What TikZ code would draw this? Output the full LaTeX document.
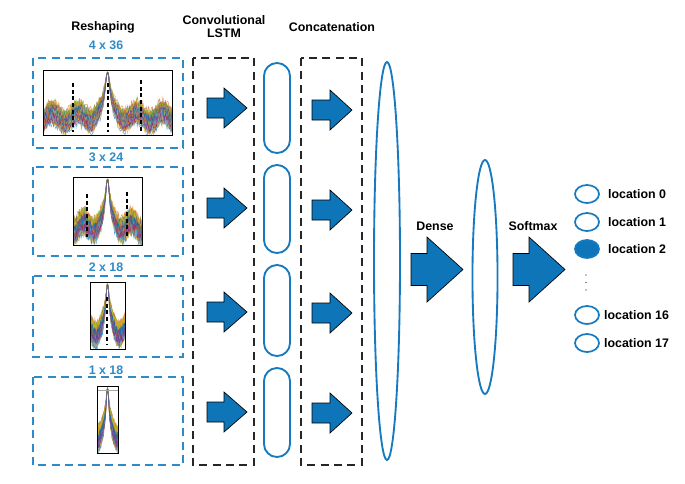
\documentclass[tikz,border=0pt]{standalone}
\usepackage{fontspec}
\setmainfont{Liberation Sans}
\usetikzlibrary{positioning, shapes.geometric}
\definecolor{fblue}{RGB}{14,117,185}
\definecolor{lblue}{RGB}{45,140,200}
\definecolor{eblue}{RGB}{22,122,192}
\definecolor{bandc}{RGB}{150,130,105}
\definecolor{m1}{RGB}{0,114,189}
\definecolor{m2}{RGB}{217,83,25}
\definecolor{m3}{RGB}{237,177,32}
\definecolor{m4}{RGB}{126,47,142}
\definecolor{m5}{RGB}{119,172,48}
\definecolor{m6}{RGB}{77,190,238}
\definecolor{m7}{RGB}{162,20,47}
\tikzset{%
    ttl/.style={font=\fontsize{9.3}{9.75}\selectfont\bfseries, align=center, inner sep=0pt},
    dim/.style={ttl, text=lblue},
    rbox/.style={draw=lblue, line width=1.2pt, dash pattern=on 6pt off 4pt},
    lbox/.style={draw=black!85, line width=1.1pt, dash pattern=on 6pt off 4pt},
    caps/.style={draw=eblue, line width=1.4pt, rounded corners=9.7pt},
    lay/.style={draw=eblue, line width=1.4pt},
    flw/.style={fill=fblue, draw=black, line width=0.5pt, line join=miter},
    trc/.style={line width=0.3pt, opacity=0.7},
    sep/.style={line width=1.6pt, dash pattern=on 3pt off 2pt},
    frm/.style={draw=black, line width=0.7pt},
    unit/.style={ellipse, draw=eblue, line width=1.3pt, minimum width=18pt, minimum height=13.5pt, inner sep=0pt},
    declare function={pk(\u)=0.97*0.0006/((\u-0.5)^2+0.0006); bs(\u)=0.31+0.08*sin(1800*abs(\u-0.5)+40);},
}
% block arrow: tail x, centre y, head x, tip x, shaft half, head half
\newcommand\flowarrow[6]{%
    \draw[flw] (#1,#2-#5) -- (#3,#2-#5) -- (#3,#2-#6) -- (#4,#2)
        -- (#3,#2+#6) -- (#3,#2+#5) -- (#1,#2+#5) -- cycle;
}
% spectrum plot: left, top, right, bottom, u0, u1
\newcommand\specplot[6]{%
    \pgfmathsetmacro\pw{(#3-#1)*0.75}
    \pgfmathsetmacro\ph{(#4-#2)*0.75}
    \begin{scope}
        \clip (#1,#2) rectangle (#3,#4);
        \begin{scope}[shift={(#1,#4)}, x=\pw pt, y=\ph pt]
            \fill[bandc, opacity=0.8] plot[domain=#5:#6, samples=161]
                    ({(\x-#5)/(#6-#5)}, {pk(\x)+(1-pk(\x))*(bs(\x)-0.2+0.03*rand)})
                -- plot[domain=#6:#5, samples=161]
                    ({(\x-#5)/(#6-#5)}, {pk(\x)+(1-pk(\x))*(bs(\x)+0.12+0.03*rand)}) -- cycle;
            \foreach \c/\o in {m1/-0.2, m2/-0.16, m3/-0.12, m4/-0.08, m5/-0.04, m6/0, m7/0.04,
                               m1/0.08, m2/0.12, m3/-0.18, m5/0.1, m6/-0.1, m4/0.02, m7/-0.14,
                               m2/-0.06, m5/0.06, m6/-0.15, m3/0.09, m1/-0.02, m4/-0.12}{
                \draw[trc, \c] plot[domain=#5:#6, samples=161]
                    ({(\x-#5)/(#6-#5)}, {pk(\x)+(1-pk(\x))*(bs(\x)+\o+0.08*rand)});
            }
        \end{scope}
    \end{scope}
}
\begin{document}
\begin{tikzpicture}[x=0.75pt, y=-0.75pt]
    \pgfmathsetseed{11}
    \useasboundingbox (0,0) rectangle (685,483);

    % column titles
    \node[ttl] (tres) at (103,27) {Reshaping};
    \node[ttl] (tlstm) at (224,26.5) {Convolutional\\LSTM};
    \node[ttl] (tcat) at (332,27) {Concatenation};

    % reshaping boxes
    \draw[rbox] (33,58) rectangle (183,148);
    \draw[rbox] (33,167) rectangle (183,256);
    \draw[rbox] (33,276) rectangle (183,357);
    \draw[rbox] (33,377) rectangle (183,465);
    \node[dim] (d1) at (106,45) {4 x 36};
    \node[dim] (d2) at (106,157) {3 x 24};
    \node[dim] (d3) at (106,267) {2 x 18};
    \node[dim] (d4) at (106,370) {1 x 18};

    % spectra
    \specplot{43}{70}{172}{135}{0}{1}
    \draw[sep] (73,83) -- (73,132);
    \draw[sep] (108,83) -- (108,132);
    \draw[sep] (141,80) -- (141,132);
    \draw[frm] (43,70) rectangle (172,135);

    \specplot{73}{177}{142}{245}{0.17}{0.83}
    \draw[sep] (87,194) -- (87,237);
    \draw[sep] (127,192) -- (127,237);
    \draw[frm] (73,177) rectangle (142,245);

    \specplot{90}{282}{125}{349}{0.3}{0.7}
    \draw[sep] (107,297) -- (107,345);
    \draw[frm] (90,282) rectangle (125,349);

    \specplot{97}{386}{118}{453}{0.36}{0.64}
    \draw[black!35, line width=0.5pt] (97,390) -- (118,390);
    \draw[frm] (97,386) rectangle (118,453);

    % ConvLSTM and concatenation columns
    \draw[lbox] (193,58) rectangle (254,465);
    \draw[lbox] (301,58) rectangle (362,465);
    \foreach \y in {108,208,312,412}{
        \flowarrow{207}{\y}{224}{247}{10}{20}
    }
    \foreach \y in {110,210,313,413}{
        \flowarrow{312}{\y}{330}{352}{10}{20}
    }
    \draw[caps] (264,63) rectangle (290,153);
    \draw[caps] (264,165) rectangle (290,253);
    \draw[caps] (264,265) rectangle (290,356);
    \draw[caps] (264,368) rectangle (290,457);

    % dense layers
    \draw[lay] (387,261) ellipse [x radius=9.75pt, y radius=149.25pt];
    \flowarrow{411}{269.5}{427}{463}{16}{32.5}
    \node[ttl] (tden) at (435,226) {Dense};
    \draw[lay] (485,277) ellipse [x radius=9.4pt, y radius=87.75pt];
    \flowarrow{513}{269.5}{529}{565}{16}{32.5}
    \node[ttl] (tsm) at (533,226) {Softmax};

    % outputs
    \node[unit] (o0) at (587,194) {};
    \node[unit] (o1) at (587,222) {};
    \node[unit, fill=fblue] (o2) at (587,249) {};
    \node[unit] (o16) at (587,315) {};
    \node[unit] (o17) at (587,343) {};
    \node[ttl, right=6pt of o0] (l0) {location 0};
    \node[ttl, right=6pt of o1] (l1) {location 1};
    \node[ttl, right=6pt of o2] (l2) {location 2};
    \node[ttl, right=3pt of o16] (l16) {location 16};
    \node[ttl, right=3pt of o17] (l17) {location 17};
    \foreach \y in {275,282.5,290}{
        \fill (586,\y) circle [radius=0.5pt];
    }
\end{tikzpicture}
\end{document}
